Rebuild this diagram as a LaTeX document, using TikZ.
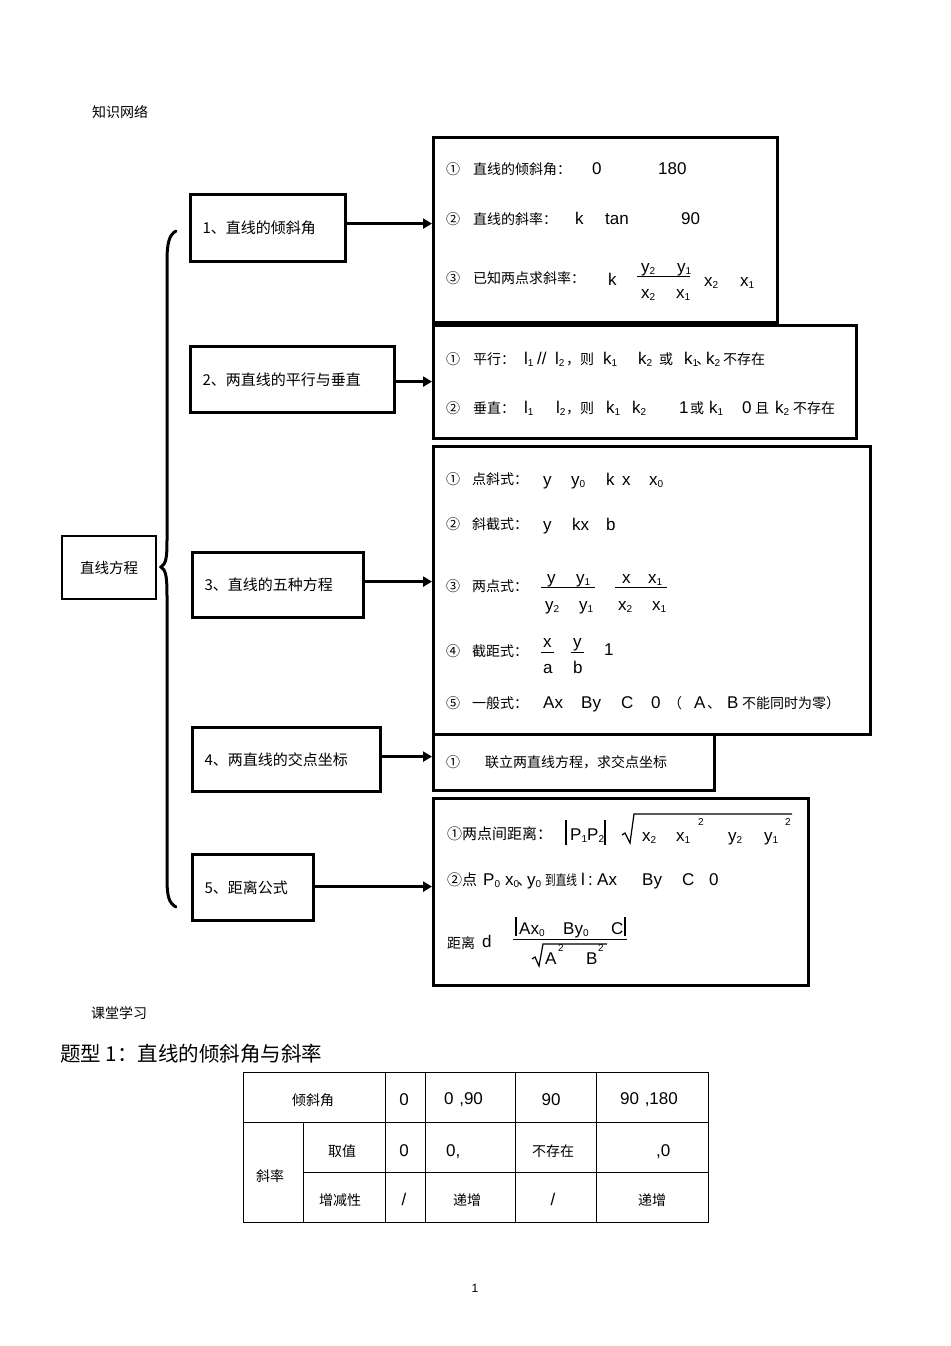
\documentclass[tikz,border=0pt]{standalone}
\usepackage{fontspec}
\setmainfont{Liberation Sans}
\newfontfamily\cjk{Noto Sans CJK SC}
\usetikzlibrary{arrows.meta}
\newcounter{tn}
\newcommand\dn[1]{\raisebox{-2.5pt}{\fontsize{10}{10}\selectfont #1}}
\newcommand\sq[1]{\raisebox{7pt}{\fontsize{10}{10}\selectfont #1}}
\newcommand\dunhao{\makebox[4pt][l]{\cjk\fontsize{14}{14}\selectfont \hspace{-2pt}、}}
\newcommand\Ct[3]{\stepcounter{tn}\node[txt,cj] (t\arabic{tn}) at (#1,#2) {#3};}
\newcommand\Lt[3]{\stepcounter{tn}\node[txt,la] (t\arabic{tn}) at (#1,#2) {#3};}
\newcommand\Cc[3]{\stepcounter{tn}\node[ctr,cj] (t\arabic{tn}) at (#1,#2) {#3};}
\newcommand\Lc[3]{\stepcounter{tn}\node[ctr,la] (t\arabic{tn}) at (#1,#2) {#3};}
\begin{document}
\begin{tikzpicture}[x=1pt,y=-1pt,
  cj/.style={font=\cjk\fontsize{14}{16}\selectfont},
  la/.style={font=\fontsize{17}{20}\selectfont},
  txt/.style={anchor=base west,inner sep=0pt,yshift=-6pt},
  ctr/.style={anchor=base,inner sep=0pt,yshift=-6pt},
  lbox/.style={draw,line width=3.2pt,anchor=north west,inner xsep=12pt,inner ysep=0pt,align=left,font=\cjk\fontsize{15}{17}\selectfont},
  rbox/.style={draw,line width=2.5pt,anchor=north west,inner sep=0pt},
  arr/.style={line width=3pt,-{Triangle[length=9pt,width=10pt]}},
  thin/.style={line width=1pt},
  tab/.style={line width=0.9pt}
]
\useasboundingbox (0,0) rectangle (950,1346);

% headings
\Ct{92}{111}{知识网络}
\Ct{91}{1012}{课堂学习}
\stepcounter{tn}\node[txt,font=\cjk\fontsize{20.5}{24}\selectfont,yshift=3pt] (title) at (60,1058) {题型 1：直线的倾斜角与斜率};
\stepcounter{tn}\node[ctr,font=\fontsize{12}{14}\selectfont,yshift=1pt] (pg) at (475,1287) {1};

% main node
\node[draw,line width=2.2pt,anchor=north west,minimum width=94pt,minimum height=63pt,inner sep=0pt,font=\cjk\fontsize{14.5}{16}\selectfont] (main) at (61,535) {直线方程};

% left boxes
\node[lbox,text width=131pt,minimum height=67pt] (b1) at (189,193) {1、直线的倾斜角};
\node[lbox,text width=180pt,minimum height=66pt] (b2) at (189,345) {2、两直线的平行与垂直};
\node[lbox,text width=147pt,minimum height=65pt] (b3) at (191,551) {3、直线的五种方程};
\node[lbox,text width=164pt,minimum height=64pt] (b4) at (191,726) {4、两直线的交点坐标};
\node[lbox,text width=97pt,minimum height=66pt] (b5) at (191,853) {5、距离公式};

% brace
\draw[line width=3pt,line cap=round] (176,231) .. controls (169,235) and (167,243) .. (167,262)
  -- (167,540) .. controls (167,558) and (166,564) .. (161,567)
  .. controls (166,570) and (167,577) .. (167,596)
  -- (167,878) .. controls (167,897) and (169,903) .. (176,907);

% right boxes
\node[rbox,minimum width=344pt,minimum height=185pt] (r1) at (432,136) {};
\node[rbox,minimum width=423pt,minimum height=113pt] (r2) at (432,324) {};
\node[rbox,minimum width=437pt,minimum height=288pt] (r3) at (432,445) {};
\node[rbox,minimum width=281pt,minimum height=56pt] (r4) at (432,733) {};
\node[rbox,minimum width=375pt,minimum height=187pt] (r5) at (432,797) {};

% arrows
\draw[arr] ([yshift=4.5pt]b1.east) -- ([yshift=4.5pt]b1.east -| r1.west);
\draw[arr] ([yshift=-2pt]b2.east) -- ([yshift=-2pt]b2.east -| r2.west);
\draw[arr] ([yshift=3.5pt]b3.east) -- ([yshift=3.5pt]b3.east -| r3.west);
\draw[arr] ([yshift=3pt]b4.east) -- ([yshift=3pt]b4.east -| r4.west);
\draw[arr] ([yshift=1pt]b5.east) -- ([yshift=1pt]b5.east -| r5.west);

% R1 content
\Ct{446}{168}{①}\Ct{473}{168}{直线的倾斜角：}\Lt{592}{168}{0}\Lt{658}{168}{180}
\Ct{446}{218}{②}\Ct{473}{218}{直线的斜率：}\Lt{575}{218}{k}\Lt{605}{218}{tan}\Lt{681}{218}{90}
\Ct{446}{277}{③}\Ct{473}{277}{已知两点求斜率：}\Lt{608}{279}{k}
\Lt{641}{266}{y\dn{2}}\Lt{677}{266}{y\dn{1}}
\draw[thin] (637,276) -- (690,276);
\Lt{641}{292}{x\dn{2}}\Lt{676}{292}{x\dn{1}}
\Lt{704}{280}{x\dn{2}}\Lt{740}{280}{x\dn{1}}

% R2 content
\Ct{446}{358}{①}\Ct{473}{358}{平行：}\Lt{524}{358}{l\dn{1}}\Lt{537}{358}{//}\Lt{555}{358}{l\dn{2}}
\Ct{566}{358}{，则}\Lt{603}{358}{k\dn{1}}\Lt{638}{358}{k\dn{2}}\Ct{659}{358}{或}
\Lt{684}{358}{k\dn{1}\dunhao}\Lt{706}{358}{k\dn{2}}\Ct{723}{358}{不存在}
\Ct{446}{407}{②}\Ct{473}{407}{垂直：}\Lt{524}{407}{l\dn{1}}\Lt{556}{407}{l\dn{2}}
\Ct{566}{407}{，则}\Lt{606}{407}{k\dn{1}}\Lt{632}{407}{k\dn{2}}\Lt{679}{407}{1}\Ct{690}{407}{或}
\Lt{709}{407}{k\dn{1}}\Lt{742}{407}{0}\Ct{755}{407}{且}\Lt{775}{407}{k\dn{2}}\Ct{793}{407}{不存在}

% R3 content
\Ct{446}{478}{①}\Ct{472}{478}{点斜式：}\Lt{543}{479}{y}\Lt{571}{479}{y\dn{0}}\Lt{606}{479}{k}\Lt{622}{479}{x}\Lt{649}{479}{x\dn{0}}
\Ct{446}{523}{②}\Ct{472}{523}{斜截式：}\Lt{543}{524}{y}\Lt{572}{524}{kx}\Lt{606}{524}{b}
\Ct{446}{585}{③}\Ct{472}{585}{两点式：}
\Lt{547}{577}{y}\Lt{576}{577}{y\dn{1}}
\draw[thin] (541,587) -- (595,587);
\Lt{545}{604}{y\dn{2}}\Lt{579}{604}{y\dn{1}}
\Lt{622}{577}{x}\Lt{648}{577}{x\dn{1}}
\draw[thin] (615,587) -- (667,587);
\Lt{618}{604}{x\dn{2}}\Lt{652}{604}{x\dn{1}}
\Ct{446}{650}{④}\Ct{472}{650}{截距式：}
\Lt{543}{641}{x}\draw[thin] (541,652) -- (554,652);\Lt{543}{667}{a}
\Lt{573}{641}{y}\draw[thin] (571,652) -- (584,652);\Lt{573}{667}{b}
\Lt{604}{649}{1}
\Ct{446}{702}{⑤}\Ct{472}{702}{一般式：}\Lt{543}{702}{Ax}\Lt{581}{702}{By}\Lt{621}{702}{C}\Lt{651}{702}{0}
\Ct{668}{702}{（}\Lt{694}{702}{A}\Ct{707}{702}{、}\Lt{727}{702}{B}\Ct{742}{702}{不能同时为零）}

% R4 content
\Ct{446}{761}{①}\Ct{485}{761}{联立两直线方程，求交点坐标}

% R5 content
\stepcounter{tn}\node[txt,font=\cjk\fontsize{15}{17}\selectfont] (t\arabic{tn}) at (447,833) {①两点间距离：};
\draw[line width=1.3pt] (566,820) -- (566,845);
\Lt{570}{834}{P\dn{1}}\Lt{587}{834}{P\dn{2}}
\draw[line width=1.3pt] (605,820) -- (605,845);
\draw[line width=1.2pt] (622,835) -- (625,833) -- (630,843) -- (634,814) -- (792,814);
\Lt{642}{835}{x\dn{2}}\Lt{676}{835}{x\dn{1}}\Lt{698}{826}{\sq{2}}
\Lt{728}{835}{y\dn{2}}\Lt{764}{835}{y\dn{1}}\Lt{785}{826}{\sq{2}}
\stepcounter{tn}\node[txt,font=\cjk\fontsize{15}{17}\selectfont] (t\arabic{tn}) at (447,879) {②点};
\Lt{483}{879}{P\dn{0}}\Lt{505}{879}{x\dn{0}\dunhao}\Lt{527}{879}{y\dn{0}}
\Ct{545}{879}{\scalebox{0.76}[1]{到直线}}\Lt{581}{879}{l}\Lt{588}{879}{:}\Lt{597}{879}{Ax}\Lt{642}{879}{By}\Lt{682}{879}{C}\Lt{709}{879}{0}
\Ct{447}{942}{距离}\Lt{482}{941}{d}
\draw[thin] (513,939) -- (627,939);
\draw[line width=1.3pt] (516,917) -- (516,936);
\Lt{519}{928}{Ax\dn{0}}\Lt{563}{928}{By\dn{0}}\Lt{611}{928}{C}
\draw[line width=1.3pt] (625,917) -- (625,936);
\draw[line width=1.2pt] (532,959) -- (535,957) -- (539,966) -- (543,944) -- (607,944);
\Lt{545}{958}{A}\Lt{558}{952}{\sq{2}}\Lt{586}{958}{B}\Lt{598}{952}{\sq{2}}

% table
\draw[tab] (243,1072) rectangle (708,1222);
\draw[tab] (243,1122) -- (708,1122);
\draw[tab] (303,1172) -- (708,1172);
\draw[tab] (303,1122) -- (303,1222);
\foreach \xx in {385,425,515,596} \draw[tab] (\xx,1072) -- (\xx,1222);
\Cc{313}{1099}{倾斜角}\Lc{404}{1099}{0}\Lt{444}{1098}{0\,\,,90}\Lc{551}{1099}{90}\Lt{620}{1098}{90\,\,,180}
\Cc{270}{1175}{斜率}
\Cc{342}{1150}{取值}\Lc{404}{1150}{0}\Lt{446}{1150}{0,}\Cc{553}{1150}{不存在}\Lt{656}{1150}{,0}
\Cc{340}{1199}{增减性}\Lc{404}{1199}{/}\Cc{467}{1199}{递增}\Lc{553}{1199}{/}\Cc{652}{1199}{递增}
\end{tikzpicture}
\end{document}
